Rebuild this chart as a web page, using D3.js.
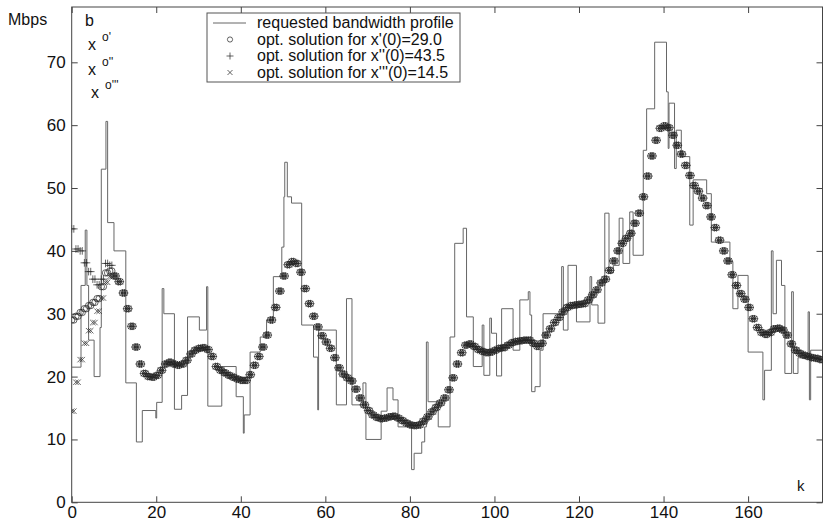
<!DOCTYPE html>
<html>

<head>
    <script src="https://d3js.org/d3.v7.min.js"></script>
    <style>
        body {
            margin: 0;
            background: #fff;
        }

        text {
            font-family: "Liberation Sans", Arial, sans-serif;
            fill: #111;
        }

        .sup {
            opacity: 0.99;
        }
    </style>
</head>

<body>
    <svg id="chart" width="826" height="524"></svg>

    <script>
        // requested bandwidth profile, stairs: value v holds from k until next k
        const profileK = [0, 2.2, 3.2, 3.6, 4.0, 5.3, 6.7, 7.0, 8.1, 8.5,
            10.0, 12.8, 15.3, 16.7, 19.9, 20.1, 21.4, 21.8, 24.3, 26.0,
            27.4, 30.2, 31.9, 32.2, 35.5, 38.9, 40.6, 40.8, 42.2, 44.6,
            46.1, 47.7, 49.7, 50.2, 50.4, 51.0, 52.0, 54.4, 57.2, 58.2,
            58.4, 62.6, 65.0, 66.3, 68.9, 69.6, 73.2, 74.6, 76.0, 77.2,
            80.4, 81.0, 82.8, 83.5, 83.9, 84.3, 86.7, 89.5, 90.6, 92.6,
            93.4, 95.0, 97.1, 97.5, 98.9, 99.3, 100.5, 101.7, 104.4, 106.0,
            108.0, 108.4, 108.8, 109.6, 110.8, 111.5, 115.9, 116.3, 117.4, 119.4,
            122.6, 123.0, 124.5, 126.1, 127.1, 128.1, 129.5, 130.4, 132.0, 132.8,
            135.2, 136.0, 137.9, 140.7, 141.1, 141.3, 142.6, 143.0, 144.2, 146.2,
            147.0, 150.2, 151.3, 155.7, 156.4, 157.6, 160.0, 163.5, 163.9, 165.5,
            165.9, 166.7, 167.9, 168.7, 170.3, 170.7, 171.8, 174.2, 174.5, 174.8,
            178];
        const profileV = [21.5, 34.5, 43.3, 34.5, 25.8, 20.0, 27.8, 53.0, 60.6, 44.5,
            40.0, 19.0, 9.6, 14.6, 13.4, 15.9, 34.0, 30.0, 14.8, 17.0,
            29.5, 27.4, 34.3, 15.3, 21.6, 16.8, 11.0, 13.9, 23.9, 26.3,
            29.0, 35.9, 40.6, 48.6, 54.1, 48.6, 47.6, 28.2, 23.1, 14.7,
            27.4, 15.5, 32.4, 15.5, 19.0, 10.0, 14.5, 18.2, 16.3, 12.0,
            5.2, 7.8, 9.6, 12.0, 25.5, 16.0, 12.0, 26.3, 41.2, 43.6,
            29.5, 21.6, 28.2, 20.2, 29.3, 26.9, 20.1, 30.8, 24.2, 32.2,
            33.5, 29.8, 17.6, 18.4, 24.2, 30.0, 37.5, 27.4, 37.7, 28.7,
            35.9, 31.4, 28.5, 46.0, 36.5, 37.7, 45.2, 38.0, 46.2, 39.3,
            56.0, 62.6, 73.2, 65.3, 56.3, 63.5, 53.1, 59.2, 55.0, 44.1,
            51.3, 49.1, 41.4, 38.3, 30.8, 36.1, 23.9, 16.3, 21.0, 40.0,
            30.0, 38.5, 34.5, 20.5, 33.5, 20.5, 23.0, 30.3, 16.3, 24.2,
            24.2];

        // the three solutions differ only for k = 0..9
        const startO = [29.0, 29.6, 30.2, 30.8, 31.3, 31.8, 32.4, 34.3, 36.5, 36.8];
        const startPlus = [43.5, 40.3, 40.0, 38.1, 36.7, 35.5, 34.6, 35.5, 38.0, 37.7];
        const startX = [14.5, 19.1, 22.7, 25.3, 27.3, 28.6, 30.4, 32.5, 35.0, 35.9];

        // common part, k = 10..177
        const common = [36.0, 35.1, 33.3, 30.8, 28.0, 24.7, 22.0, 20.5, 20.0, 19.9,
            20.2, 21.0, 22.0, 22.3, 22.0, 21.8, 22.0, 22.6, 23.6, 24.2,
            24.5, 24.6, 24.3, 23.2, 21.6, 21.0, 20.6, 20.2, 19.9, 19.6,
            19.4, 19.4, 20.3, 21.8, 23.2, 24.7, 26.6, 29.0, 31.0, 33.6,
            36.0, 37.8, 38.3, 38.0, 36.6, 34.0, 31.6, 29.6, 27.9, 26.5,
            25.5, 24.5, 23.0, 21.4, 20.4, 19.8, 19.3, 18.0, 16.6, 15.5,
            14.6, 13.9, 13.5, 13.3, 13.4, 13.6, 13.7, 13.4, 13.0, 12.6,
            12.3, 12.2, 12.3, 12.9, 13.6, 14.4, 15.1, 15.8, 16.6, 17.9,
            19.8, 22.0, 23.8, 25.0, 25.2, 24.8, 24.3, 24.0, 23.8, 23.9,
            24.2, 24.5, 24.6, 25.0, 25.4, 25.6, 25.7, 25.8, 25.8, 25.3,
            24.8, 25.3, 26.6, 27.6, 28.6, 29.4, 30.3, 31.0, 31.3, 31.4,
            31.5, 31.6, 32.2, 33.0, 33.8, 34.9, 35.5, 36.9, 38.4, 40.0,
            41.2, 42.0, 42.8, 44.4, 46.0, 48.6, 51.9, 55.1, 57.6, 59.5,
            59.9, 59.6, 58.4, 56.8, 55.4, 53.6, 52.0, 50.4, 49.5, 48.4,
            47.2, 45.4, 43.7, 41.7, 40.0, 38.4, 36.2, 34.5, 33.2, 32.3,
            31.0, 29.2, 27.8, 27.0, 26.7, 27.0, 27.6, 27.7, 27.4, 26.6,
            25.2, 24.2, 23.7, 23.4, 23.2, 23.0, 22.9, 22.7];

        const xTicks = [0, 20, 40, 60, 80, 100, 120, 140, 160];
        const yTicks = [0, 10, 20, 30, 40, 50, 60, 70];
        const legendLabels = ["requested bandwidth profile",
            "opt. solution for x'(0)=29.0",
            "opt. solution for x''(0)=43.5",
            "opt. solution for x'''(0)=14.5"];

        const svg = d3.select("#chart");
        const margin = { top: 7, right: 3.5, bottom: 21.7, left: 71.7 };
        const width = 826 - margin.left - margin.right;
        const height = 524 - margin.top - margin.bottom;

        const x = d3.scaleLinear().domain([0, 177.6]).range([0, width]);
        const y = d3.scaleLinear().domain([0, 78.8]).range([height, 0]);

        const plot = svg.append("g")
            .attr("transform", `translate(${margin.left},${margin.top})`);

        svg.append("defs").append("clipPath").attr("id", "clip")
            .append("rect").attr("width", width).attr("height", height);

        // axes, ticks inside on all four sides like matlab
        const axisColor = "#444";
        const tick = 6;
        const xAxis = d3.axisBottom(x).tickValues(xTicks).tickSizeInner(-tick).tickSizeOuter(0).tickPadding(4);
        const xTop = d3.axisTop(x).tickValues(xTicks).tickSizeInner(-tick).tickSizeOuter(0).tickFormat("");
        const yAxis = d3.axisLeft(y).tickValues(yTicks).tickSizeInner(-tick).tickSizeOuter(0).tickPadding(6);
        const yRight = d3.axisRight(y).tickValues(yTicks).tickSizeInner(-tick).tickSizeOuter(0).tickFormat("");

        plot.append("g").attr("transform", `translate(0,${height})`).call(xAxis);
        plot.append("g").call(xTop);
        plot.append("g").call(yAxis);
        plot.append("g").attr("transform", `translate(${width},0)`).call(yRight);

        plot.selectAll(".domain").remove();
        plot.selectAll(".tick line").attr("stroke", axisColor);
        plot.selectAll(".tick text")
            .style("font-size", "17px")
            .attr("fill", "#111");

        plot.append("rect")
            .attr("width", width).attr("height", height)
            .attr("fill", "none").attr("stroke", axisColor).attr("stroke-width", 1);

        const area = plot.append("g").attr("clip-path", "url(#clip)");

        // profile
        const profile = profileK.map((k, i) => [k, profileV[i]]);
        const stairs = d3.line()
            .x(d => x(d[0]))
            .y(d => y(d[1]))
            .curve(d3.curveStepAfter);

        area.append("path")
            .datum(profile)
            .attr("d", stairs)
            .attr("fill", "none")
            .attr("stroke", "#666")
            .attr("stroke-width", 1);

        // solutions
        const solO = startO.concat(common);
        const solPlus = startPlus.concat(common);
        const solX = startX.concat(common);

        // each sample is held for half a step, so it shows twice
        const points = vals => vals.flatMap((v, k) => [[k, v], [k + 0.5, v]]);

        const ink = "#222";
        area.selectAll("circle.o").data(points(solO))
            .join("circle")
            .attr("class", "o")
            .attr("cx", d => x(d[0]))
            .attr("cy", d => y(d[1]))
            .attr("r", 3.2)
            .attr("fill", "none")
            .attr("stroke", ink)
            .attr("stroke-width", 0.7);

        const plusPath = s => `M${-s},0H${s}M0,${-s}V${s}`;
        const crossPath = s => `M${-s},${-s}L${s},${s}M${-s},${s}L${s},${-s}`;

        area.selectAll("path.plus").data(points(solPlus))
            .join("path")
            .attr("class", "plus")
            .attr("transform", d => `translate(${x(d[0])},${y(d[1])})`)
            .attr("d", plusPath(3.8))
            .attr("stroke", ink)
            .attr("stroke-width", 0.7);

        area.selectAll("path.cross").data(points(solX))
            .join("path")
            .attr("class", "cross")
            .attr("transform", d => `translate(${x(d[0])},${y(d[1])})`)
            .attr("d", crossPath(2.7))
            .attr("stroke", ink)
            .attr("stroke-width", 0.7);

        // legend
        const legend = svg.append("g").attr("transform", "translate(207,13)");
        legend.append("rect")
            .attr("width", 253).attr("height", 69)
            .attr("fill", "#fff").attr("stroke", "#555").attr("stroke-width", 1);

        const rowY = [15, 31.5, 48, 64.5];
        legend.append("line")
            .attr("x1", 6).attr("x2", 39).attr("y1", rowY[0] - 5).attr("y2", rowY[0] - 5)
            .attr("stroke", "#666");
        legend.append("circle")
            .attr("cx", 23).attr("cy", rowY[1] - 5).attr("r", 2.6)
            .attr("fill", "none").attr("stroke", ink).attr("stroke-width", 0.7);
        legend.append("path")
            .attr("transform", `translate(23,${rowY[2] - 5})`)
            .attr("d", plusPath(3.5)).attr("stroke", ink).attr("stroke-width", 0.7);
        legend.append("path")
            .attr("transform", `translate(23,${rowY[3] - 5})`)
            .attr("d", crossPath(2.5)).attr("stroke", ink).attr("stroke-width", 0.7);

        legend.selectAll("text.lab").data(legendLabels)
            .join("text")
            .attr("class", "lab")
            .attr("x", 50)
            .attr("y", (d, i) => rowY[i])
            .style("font-size", "16px")
            .text(d => d);

        // labels
        svg.append("text").attr("x", 8).attr("y", 25).style("font-size", "16px").text("Mbps");
        svg.append("text").attr("x", 85).attr("y", 26).style("font-size", "16px").text("b");
        svg.append("text").attr("x", 797).attr("y", 491).style("font-size", "15px").text("k");

        const supRows = [
            { x: 88, y: 50, sup: "o'" },
            { x: 88, y: 75, sup: "o''" },
            { x: 91, y: 98, sup: "o'''" }
        ];
        supRows.forEach(r => {
            svg.append("text").attr("x", r.x).attr("y", r.y).style("font-size", "16px").text("x");
            svg.append("text").attr("class", "sup").attr("x", r.x + 14).attr("y", r.y - 9)
                .style("font-size", "12px").text(r.sup);
        });
    </script>
</body>

</html>
